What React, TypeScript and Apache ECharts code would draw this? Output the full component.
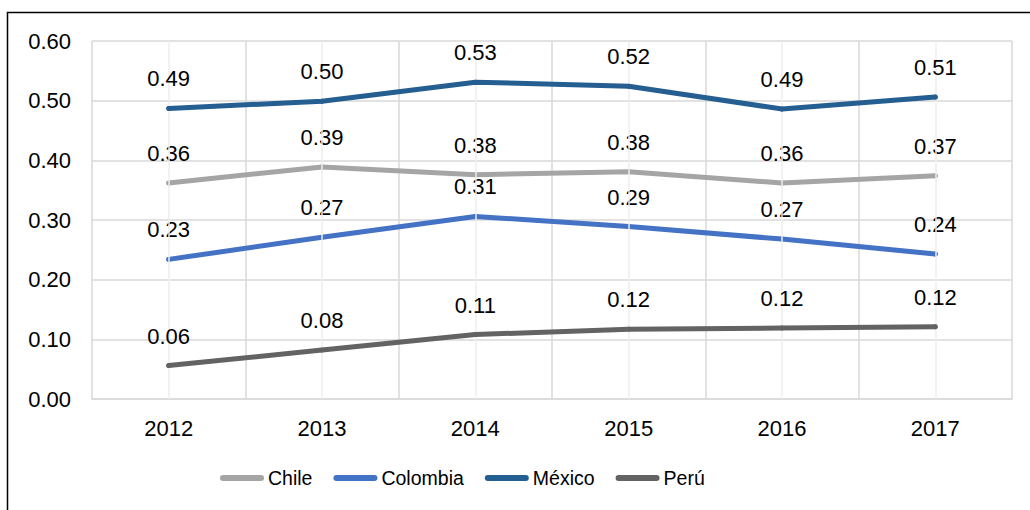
import React, { useEffect, useRef } from "react";
import * as echarts from "echarts";

const years = ["2012", "2013", "2014", "2015", "2016", "2017"];
const chile = [0.362, 0.389, 0.376, 0.381, 0.362, 0.374];
const colombia = [0.234, 0.271, 0.306, 0.289, 0.268, 0.243];
const mexico = [0.487, 0.499, 0.531, 0.524, 0.486, 0.506];
const peru = [0.056, 0.082, 0.108, 0.117, 0.119, 0.121];

const seriesNames = ["Chile", "Colombia", "México", "Perú"];
const seriesColors = ["#a5a5a5", "#4472c4", "#255e91", "#636363"];
const seriesData = [chile, colombia, mexico, peru];

const FONT = "'Liberation Sans', Arial, sans-serif";
const PILL = "path://M3,0 H41 A3,3 0 0 1 41,6 H3 A3,3 0 0 1 3,0 Z";

export default function App() {
  const ref = useRef<HTMLDivElement>(null);

  useEffect(() => {
    document.body.style.margin = "0";
    if (!ref.current) return;
    const chart = echarts.init(ref.current, null, { renderer: "svg" });

    const series: any[] = seriesNames.map((name, i) => ({
      name,
      type: "line",
      data: seriesData[i],
      symbol: "circle",
      symbolSize: 5,
      showSymbol: true,
      lineStyle: { color: seriesColors[i], width: 5, cap: "round", join: "round" },
      itemStyle: { color: seriesColors[i], borderWidth: 0 },
      label: {
        show: true,
        position: "top",
        distance: 16,
        color: "#000",
        fontSize: 22,
        fontFamily: FONT,
        formatter: (p: any) => Number(p.value).toFixed(2),
      },
      z: 3 + i,
    }));

    // light vertical guides through each category centre
    series.push({
      name: "_centres",
      type: "line",
      data: [],
      silent: true,
      markLine: {
        silent: true,
        symbol: ["none", "none"],
        label: { show: false },
        lineStyle: { color: "#eeeeee", width: 1.5, type: "solid" },
        data: years.map((y) => ({ xAxis: y })),
      },
      z: 1,
    });

    chart.setOption({
      animation: false,
      backgroundColor: "#ffffff",
      grid: { left: 92, right: 18, top: 41, bottom: 111 },
      xAxis: {
        type: "category",
        data: years,
        boundaryGap: true,
        axisLine: { show: true, lineStyle: { color: "#d9d9d9", width: 1.5 } },
        axisTick: { show: false },
        axisLabel: { color: "#000", fontSize: 22, fontFamily: FONT, margin: 18 },
        splitLine: { show: true, lineStyle: { color: "#d9d9d9", width: 1.5 } },
      },
      yAxis: {
        type: "value",
        min: 0,
        max: 0.6,
        interval: 0.1,
        axisLine: { show: false },
        axisTick: { show: false },
        axisLabel: {
          color: "#000",
          fontSize: 22,
          fontFamily: FONT,
          margin: 21,
          formatter: (v: number) => v.toFixed(2),
        },
        splitLine: { show: true, lineStyle: { color: "#d9d9d9", width: 1.5 } },
      },
      legend: {
        data: seriesNames.map((n) => ({ name: n, icon: PILL })),
        left: 220,
        top: 468,
        padding: 0,
        itemWidth: 44,
        itemHeight: 6,
        itemGap: 21,
        textStyle: { color: "#000", fontSize: 19.5, fontFamily: FONT, padding: [0, 0, 0, -1] },
      },
      graphic: [
        {
          type: "rect",
          shape: { x: 7.5, y: 12.5, width: 1200, height: 800 },
          style: { fill: "none", stroke: "#000", lineWidth: 1.5 },
          silent: true,
          z: 10,
        },
      ],
      series,
    });

    return () => chart.dispose();
  }, []);

  return <div ref={ref} style={{ width: 1030, height: 510 }} />;
}
